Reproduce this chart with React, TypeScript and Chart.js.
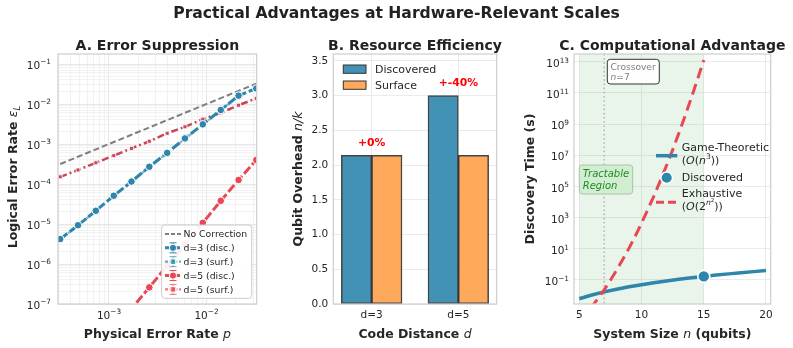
import React, { useEffect, useRef } from 'react';
import { Chart, registerables } from 'chart.js';

Chart.register(...registerables);

const FONT = "'DejaVu Sans', 'Noto Sans', sans-serif";
const TEXT = '#262626';
const BLUE = '#2E86AB';
const RED = '#E84855';
const CRIMSON = '#C8455A';

// ---------- Panel A: error suppression ----------
const physicalErrorRates = [3.16e-4, 4.81e-4, 7.33e-4, 1.12e-3, 1.7e-3, 2.59e-3, 3.95e-3, 6.01e-3, 9.16e-3, 1.4e-2, 2.13e-2, 3.24e-2];
const noCorrection = [3.16e-4, 4.81e-4, 7.33e-4, 1.12e-3, 1.7e-3, 2.59e-3, 3.95e-3, 6.01e-3, 9.16e-3, 1.4e-2, 2.13e-2, 3.24e-2];
const d3Discovered = [4.2e-6, 9.3e-6, 2.14e-5, 5.1e-5, 1.15e-4, 2.7e-4, 6.0e-4, 1.38e-3, 3.1e-3, 7.1e-3, 1.62e-2, 2.45e-2];
const d3Surface = [4.1e-6, 9.2e-6, 2.1e-5, 5.0e-5, 1.13e-4, 2.66e-4, 5.9e-4, 1.36e-3, 3.05e-3, 7.0e-3, 1.6e-2, 2.42e-2];
const d5Discovered = [5.2e-10, 1.8e-9, 6.3e-9, 2.2e-8, 7.6e-8, 2.6e-7, 9.1e-7, 3.1e-6, 1.07e-5, 3.8e-5, 1.26e-4, 4.0e-4];
const d5Surface = [1.51e-4, 2.24e-4, 3.39e-4, 5.13e-4, 7.76e-4, 1.17e-3, 1.86e-3, 2.69e-3, 4.17e-3, 6.03e-3, 9.33e-3, 1.38e-2];
const panelAXTickExps = [-3, -2];
const panelAYTickExps = [-7, -6, -5, -4, -3, -2, -1];

// ---------- Panel B: resource efficiency ----------
const codeDistances = ['d=3', 'd=5'];
const discoveredOverhead = [2.14, 3.0];
const surfaceOverhead = [2.14, 2.14];
const overheadDelta = ['+0%', '+-40%'];

// ---------- Panel C: computational advantage ----------
const systemSizes = [5, 6, 7, 8, 9, 10, 11, 12, 13, 14, 15, 16, 17, 18, 19, 20];
const gameTheoreticTime = [0.00625, 0.0108, 0.0172, 0.0256, 0.0365, 0.05, 0.0666, 0.0864, 0.11, 0.137, 0.169, 0.205, 0.246, 0.292, 0.343, 0.4];
const exhaustiveSizes = [5, 5.5, 6, 6.5, 7, 7.5, 8, 8.5, 9, 9.5, 10, 10.5, 11, 11.5, 12, 12.5, 13, 13.5, 14, 14.5, 15];
const exhaustiveTime = [2.3e-4, 6.3e-4, 1.9e-3, 6.5e-3, 2.3e-2, 9.5e-2, 0.43, 2.1, 11, 66, 440, 3.2e3, 2.5e4, 2.2e5, 2.1e6, 2.2e7, 2.6e8, 3.3e9, 4.8e10, 7.4e11, 1.26e13];
const discoveredSize = [15];
const discoveredTime = [0.169];
const crossoverSize = 7;
const tractableRange = [5, 15];
const panelCYTickExps = [-1, 1, 3, 5, 7, 9, 11, 13];

// ---------- helpers ----------
const F = (size: number, style = '') => `${style} ${size}px ${FONT}`.trim();
type Seg = { t: string; f: string; dy?: number; c?: string };

function drawRich(ctx: CanvasRenderingContext2D, segs: Seg[], x: number, y: number, align = 'center', rot = 0, color = TEXT) {
  ctx.save();
  ctx.translate(x, y);
  ctx.rotate(rot);
  ctx.textBaseline = 'alphabetic';
  ctx.textAlign = 'left';
  const ws = segs.map((s) => { ctx.font = s.f; return ctx.measureText(s.t).width; });
  const tot = ws.reduce((a, b) => a + b, 0);
  let cx = align === 'center' ? -tot / 2 : align === 'right' ? -tot : 0;
  segs.forEach((s, i) => {
    ctx.font = s.f;
    ctx.fillStyle = s.c || color;
    ctx.fillText(s.t, cx, s.dy || 0);
    cx += ws[i];
  });
  ctx.restore();
}

function drawPow10(ctx: CanvasRenderingContext2D, exp: number, x: number, yMid: number, align: string, size: number) {
  const sup = exp < 0 ? '\u2212' + Math.abs(exp) : String(exp);
  const ss = size * 0.7;
  const baseY = yMid + size * 0.36;
  drawRich(ctx, [
    { t: '10', f: F(size) },
    { t: sup, f: F(ss), dy: -size * 0.42 },
  ], x, baseY, align);
}

function rr(ctx: CanvasRenderingContext2D, x: number, y: number, w: number, h: number, r: number) {
  ctx.beginPath();
  ctx.moveTo(x + r, y);
  ctx.lineTo(x + w - r, y);
  ctx.quadraticCurveTo(x + w, y, x + w, y + r);
  ctx.lineTo(x + w, y + h - r);
  ctx.quadraticCurveTo(x + w, y + h, x + w - r, y + h);
  ctx.lineTo(x + r, y + h);
  ctx.quadraticCurveTo(x, y + h, x, y + h - r);
  ctx.lineTo(x, y + r);
  ctx.quadraticCurveTo(x, y, x + r, y);
  ctx.closePath();
}

function drawFrame(chart: any) {
  const { ctx, chartArea: a } = chart;
  ctx.save();
  ctx.strokeStyle = '#cfcfcf';
  ctx.lineWidth = 1.25;
  ctx.strokeRect(a.left, a.top, a.right - a.left, a.bottom - a.top);
  ctx.restore();
}

function logTicks(min: number, max: number) {
  const out: any[] = [];
  for (let e = Math.floor(Math.log10(min)) - 1; e <= Math.ceil(Math.log10(max)); e++) {
    for (let k = 1; k <= 9; k++) {
      const v = k * Math.pow(10, e);
      if (v >= min * 0.999 && v <= max * 1.001) out.push({ value: v, major: k === 1 });
    }
  }
  return out;
}

const isPow10 = (v: number) => Math.abs(Math.log10(v) - Math.round(Math.log10(v))) < 1e-6;

function drawMarker(ctx: CanvasRenderingContext2D, kind: string, x: number, y: number, r: number, fill: string) {
  ctx.save();
  ctx.setLineDash([]);
  ctx.fillStyle = fill;
  ctx.strokeStyle = '#ffffff';
  ctx.lineWidth = 1;
  ctx.beginPath();
  if (kind === 'circle') ctx.arc(x, y, r, 0, Math.PI * 2);
  else ctx.rect(x - r, y - r, 2 * r, 2 * r);
  ctx.fill();
  ctx.stroke();
  ctx.restore();
}

// ---------- chart builders ----------
const CANVAS_W = 793;
const CANVAS_H = 348;
const TOP = 54;
const XAXIS_H = 44;
const YAXIS_W = 30;

function makeA(canvas: HTMLCanvasElement) {
  const left = 58, right = 256.7;
  const xmin = 3.0e-4, xmax = 0.0327, ymin = 1e-7, ymax = 0.178;
  const pts = (arr: number[]) => physicalErrorRates.map((p, i) => ({ x: p, y: arr[i] }));
  const plugin = {
    id: 'panelA',
    afterDraw(chart: any) {
      const { ctx, chartArea: a, scales } = chart;
      const x = scales.x, y = scales.y;
      drawFrame(chart);
      drawRich(ctx, [{ t: 'Practical Advantages at Hardware-Relevant Scales', f: F(15.6, 'bold') }], 396.5, 17.5, 'center', 0, '#222222');
      drawRich(ctx, [{ t: 'A. Error Suppression', f: F(14, 'bold') }], (a.left + a.right) / 2, 49.5, 'center', 0, '#222222');
      panelAXTickExps.forEach((e) => drawPow10(ctx, e, x.getPixelForValue(Math.pow(10, e)), a.bottom + 11, 'center', 10.5));
      panelAYTickExps.forEach((e) => drawPow10(ctx, e, a.left - 7, y.getPixelForValue(Math.pow(10, e)) + 1, 'right', 10.5));
      drawRich(ctx, [{ t: 'Physical Error Rate ', f: F(12.5, 'bold') }, { t: 'p', f: F(12.5, 'italic') }], (a.left + a.right) / 2, 337.5);
      drawRich(ctx, [
        { t: 'Logical Error Rate ', f: F(12.5, 'bold') },
        { t: '\u03b5', f: F(12.5, 'italic') },
        { t: 'L', f: F(8.5, 'italic'), dy: 2.5 },
      ], 17, (a.top + a.bottom) / 2 - 2, 'center', -Math.PI / 2);
      // legend
      ctx.save();
      rr(ctx, 161.7, 225, 90, 73.3, 3);
      ctx.fillStyle = 'rgba(255,255,255,0.9)';
      ctx.fill();
      ctx.strokeStyle = '#cccccc';
      ctx.lineWidth = 1;
      ctx.stroke();
      const items = [
        { label: 'No Correction', color: '#7f7f7f', lw: 2, dash: [4, 2], marker: '', err: false },
        { label: 'd=3 (disc.)', color: BLUE, lw: 3, dash: [4, 1.5], marker: 'circle', err: true },
        { label: 'd=3 (surf.)', color: 'rgba(46,134,171,0.7)', lw: 2.2, dash: [3, 1.5, 1, 1.5], marker: 'rect', err: true },
        { label: 'd=5 (disc.)', color: RED, lw: 3, dash: [4, 1.5], marker: 'circle', err: true },
        { label: 'd=5 (surf.)', color: 'rgba(232,72,85,0.75)', lw: 2.2, dash: [3, 1.5, 1, 1.5], marker: 'rect', err: true },
      ];
      items.forEach((it, i) => {
        const yy = 234 + i * 13.85;
        ctx.setLineDash(it.dash);
        ctx.strokeStyle = it.color;
        ctx.lineWidth = it.lw;
        ctx.beginPath();
        ctx.moveTo(165, yy);
        ctx.lineTo(181, yy);
        ctx.stroke();
        ctx.setLineDash([]);
        if (it.err) {
          ctx.lineWidth = 1;
          ctx.beginPath();
          ctx.moveTo(173, yy - 5); ctx.lineTo(173, yy + 5);
          ctx.moveTo(169.5, yy - 5); ctx.lineTo(176.5, yy - 5);
          ctx.moveTo(169.5, yy + 5); ctx.lineTo(176.5, yy + 5);
          ctx.stroke();
        }
        if (it.marker) drawMarker(ctx, it.marker, 173, yy, it.marker === 'circle' ? 3.6 : 2.8, it.color);
        drawRich(ctx, [{ t: it.label, f: F(9.3) }], 183.5, yy + 3.4, 'left');
      });
      ctx.restore();
    },
  };
  const gridColor = (c: any) => (c.tick && isPow10(c.tick.value) ? '#e2e2e2' : '#efefef');
  return new Chart(canvas, {
    type: 'line',
    data: {
      datasets: [
        { label: 'd=3 (disc.)', data: pts(d3Discovered), borderColor: BLUE, borderWidth: 3, borderDash: [9, 3], pointRadius: 3.8, pointBackgroundColor: BLUE, pointBorderColor: '#ffffff', pointBorderWidth: 1 },
        { label: 'd=5 (disc.)', data: pts(d5Discovered), borderColor: RED, borderWidth: 3, borderDash: [9, 3], pointRadius: 3.8, pointBackgroundColor: RED, pointBorderColor: '#ffffff', pointBorderWidth: 1 },
        { label: 'd=3 (surf.)', data: pts(d3Surface), borderColor: 'rgba(46,134,171,0.6)', borderWidth: 2.2, borderDash: [7, 3, 2, 3], pointStyle: 'rect', pointRadius: 2.8, pointBackgroundColor: 'rgba(46,134,171,0.6)', pointBorderColor: '#ffffff', pointBorderWidth: 0.8 },
        { label: 'd=5 (surf.)', data: pts(d5Surface), borderColor: CRIMSON, borderWidth: 2.5, borderDash: [7, 3, 2, 3], pointStyle: 'rect', pointRadius: 2.8, pointBackgroundColor: CRIMSON, pointBorderColor: '#ffffff', pointBorderWidth: 0.8 },
        { label: 'No Correction', data: pts(noCorrection), borderColor: '#7f7f7f', borderWidth: 2, borderDash: [6, 3], pointRadius: 0 },
      ],
    },
    options: {
      responsive: false,
      animation: false,
      devicePixelRatio: 1,
      layout: { padding: { left: left - YAXIS_W, top: TOP, right: CANVAS_W - right, bottom: 0 } },
      plugins: { legend: { display: false }, tooltip: { enabled: false } },
      scales: {
        x: {
          type: 'logarithmic', min: xmin, max: xmax,
          afterBuildTicks: (s: any) => { s.ticks = logTicks(xmin, xmax); },
          afterFit: (s: any) => { s.height = XAXIS_H; },
          ticks: { display: false },
          grid: { color: gridColor, lineWidth: 0.8, drawTicks: false },
          border: { display: false },
        },
        y: {
          type: 'logarithmic', min: ymin, max: ymax,
          afterBuildTicks: (s: any) => { s.ticks = logTicks(ymin, ymax); },
          afterFit: (s: any) => { s.width = YAXIS_W; },
          ticks: { display: false },
          grid: { color: gridColor, lineWidth: 0.8, drawTicks: false },
          border: { display: false },
        },
      },
    } as any,
    plugins: [plugin],
  });
}

function makeB(canvas: HTMLCanvasElement) {
  const left = 333.3, right = 496.7;
  const halfW = 0.175;
  const plugin = {
    id: 'panelB',
    afterDraw(chart: any) {
      const { ctx, chartArea: a, scales } = chart;
      const x = scales.x, y = scales.y;
      drawFrame(chart);
      drawRich(ctx, [{ t: 'B. Resource Efficiency', f: F(14, 'bold') }], (a.left + a.right) / 2, 49.5, 'center', 0, '#222222');
      drawRich(ctx, [{ t: 'Code Distance ', f: F(12.5, 'bold') }, { t: 'd', f: F(12.5, 'italic') }], (a.left + a.right) / 2, 337.5);
      drawRich(ctx, [{ t: 'Qubit Overhead ', f: F(12.5, 'bold') }, { t: 'n/k', f: F(12.5, 'italic') }], 301.5, (a.top + a.bottom) / 2, 'center', -Math.PI / 2);
      // annotations
      codeDistances.forEach((_, i) => {
        const top = Math.max(discoveredOverhead[i], surfaceOverhead[i]);
        drawRich(ctx, [{ t: overheadDelta[i], f: F(10.8, 'bold') }], x.getPixelForValue(i), y.getPixelForValue(top + 0.1) - 2.6, 'center', 0, '#ff0000');
      });
      // legend
      ctx.save();
      const leg = [
        { label: 'Discovered', color: '#4292B6', y: 65 },
        { label: 'Surface', color: '#FFA95C', y: 81 },
      ];
      leg.forEach((l) => {
        ctx.fillStyle = l.color;
        ctx.fillRect(343.3, l.y, 22.7, 8.3);
        ctx.strokeStyle = '#333333';
        ctx.lineWidth = 1;
        ctx.strokeRect(343.3, l.y, 22.7, 8.3);
        drawRich(ctx, [{ t: l.label, f: F(11) }], 375, l.y + 8.2, 'left');
      });
      ctx.restore();
    },
  };
  const common = { borderColor: 'rgba(35,35,35,0.85)', borderWidth: 1.5, borderSkipped: false, grouped: false, categoryPercentage: 1, barPercentage: 1 };
  return new Chart(canvas, {
    type: 'bar',
    data: {
      datasets: [
        { label: 'Discovered', data: codeDistances.map((_, i) => ({ x: i - halfW, y: discoveredOverhead[i] })), backgroundColor: '#4292B6', ...common },
        { label: 'Surface', data: codeDistances.map((_, i) => ({ x: i + halfW, y: surfaceOverhead[i] })), backgroundColor: '#FFA95C', ...common },
      ],
    },
    options: {
      responsive: false,
      animation: false,
      devicePixelRatio: 1,
      layout: { padding: { left: left - YAXIS_W, top: TOP, right: CANVAS_W - right, bottom: 0 } },
      plugins: { legend: { display: false }, tooltip: { enabled: false } },
      scales: {
        x: {
          type: 'linear', min: -0.443, max: 1.443, offset: false,
          afterBuildTicks: (s: any) => { s.ticks = codeDistances.map((_, i) => ({ value: i })); },
          afterFit: (s: any) => { s.height = XAXIS_H; },
          ticks: { callback: (v: any) => codeDistances[Math.round(Number(v))], font: { family: FONT, size: 10.5 }, color: TEXT, padding: 5, maxRotation: 0 },
          grid: { color: '#e6e6e6', lineWidth: 0.8, drawTicks: false, offset: false },
          border: { display: false },
        },
        y: {
          type: 'linear', min: 0, max: 3.6,
          afterBuildTicks: (s: any) => { s.ticks = [0, 0.5, 1, 1.5, 2, 2.5, 3, 3.5].map((v) => ({ value: v })); },
          afterFit: (s: any) => { s.width = YAXIS_W; },
          ticks: { callback: (v: any) => Number(v).toFixed(1), font: { family: FONT, size: 10.5 }, color: TEXT, padding: 5 },
          grid: { color: '#e6e6e6', lineWidth: 0.8, drawTicks: false },
          border: { display: false },
        },
      },
    } as any,
    plugins: [plugin],
  });
}

function makeC(canvas: HTMLCanvasElement) {
  const left = 574, right = 770.7;
  const ymin = 2.88e-3, ymax = 3.09e13;
  const plugin = {
    id: 'panelC',
    beforeDatasetsDraw(chart: any) {
      const { ctx, chartArea: a, scales } = chart;
      const x = scales.x;
      ctx.save();
      ctx.fillStyle = 'rgba(76,175,80,0.12)';
      const x0 = x.getPixelForValue(tractableRange[0]);
      const x1 = x.getPixelForValue(tractableRange[1]);
      ctx.fillRect(x0, a.top, x1 - x0, a.bottom - a.top);
      ctx.strokeStyle = '#b8b8b8';
      ctx.lineWidth = 1.6;
      ctx.setLineDash([1.6, 2.6]);
      const xc = x.getPixelForValue(crossoverSize);
      ctx.beginPath();
      ctx.moveTo(xc, a.top);
      ctx.lineTo(xc, a.bottom);
      ctx.stroke();
      ctx.restore();
    },
    afterDraw(chart: any) {
      const { ctx, chartArea: a, scales } = chart;
      const y = scales.y;
      drawFrame(chart);
      drawRich(ctx, [{ t: 'C. Computational Advantage', f: F(14, 'bold') }], (a.left + a.right) / 2, 49.5, 'center', 0, '#222222');
      panelCYTickExps.forEach((e) => drawPow10(ctx, e, a.left - 5, y.getPixelForValue(Math.pow(10, e)) + 1.5, 'right', 10.5));
      drawRich(ctx, [{ t: 'System Size ', f: F(12.5, 'bold') }, { t: 'n', f: F(12.5, 'italic') }, { t: ' (qubits)', f: F(12.5, 'bold') }], (a.left + a.right) / 2, 337.5);
      drawRich(ctx, [{ t: 'Discovery Time (s)', f: F(12.5, 'bold') }], 533.5, (a.top + a.bottom) / 2, 'center', -Math.PI / 2);

      ctx.save();
      // crossover box
      rr(ctx, 607.3, 59.3, 52, 24.7, 3);
      ctx.fillStyle = 'rgba(255,255,255,0.92)';
      ctx.fill();
      ctx.strokeStyle = '#333333';
      ctx.lineWidth = 1;
      ctx.stroke();
      drawRich(ctx, [{ t: 'Crossover', f: F(9.1) }], 610.5, 70, 'left', 0, '#808080');
      drawRich(ctx, [{ t: 'n', f: F(9.1, 'italic') }, { t: '=' + crossoverSize, f: F(9.1) }], 610.5, 79.8, 'left', 0, '#808080');
      // tractable box
      rr(ctx, 579.3, 165, 53.4, 29, 3);
      ctx.fillStyle = '#d2eed2';
      ctx.fill();
      ctx.strokeStyle = '#a9c2a9';
      ctx.lineWidth = 1;
      ctx.stroke();
      drawRich(ctx, [{ t: 'Tractable', f: F(10, 'italic') }], 582.7, 176.8, 'left', 0, '#1f8a1f');
      drawRich(ctx, [{ t: 'Region', f: F(10, 'italic') }], 582.7, 189, 'left', 0, '#1f8a1f');

      // legend
      ctx.strokeStyle = BLUE;
      ctx.lineWidth = 3.5;
      ctx.beginPath();
      ctx.moveTo(656, 155.7);
      ctx.lineTo(677.3, 155.7);
      ctx.stroke();
      const LF = 11;
      drawRich(ctx, [{ t: 'Game-Theoretic', f: F(LF) }], 681.7, 151.3, 'left');
      drawRich(ctx, [
        { t: '(', f: F(LF) }, { t: 'O', f: F(LF, 'italic') }, { t: '(', f: F(LF) }, { t: 'n', f: F(LF, 'italic') },
        { t: '3', f: F(LF * 0.7), dy: -4.6 }, { t: '))', f: F(LF) },
      ], 681.7, 163.5, 'left');
      ctx.beginPath();
      ctx.arc(666.7, 177.7, 5.8, 0, Math.PI * 2);
      ctx.fillStyle = BLUE;
      ctx.fill();
      ctx.strokeStyle = '#ffffff';
      ctx.lineWidth = 1.5;
      ctx.stroke();
      drawRich(ctx, [{ t: 'Discovered', f: F(LF) }], 681.7, 181.3, 'left');
      ctx.strokeStyle = RED;
      ctx.lineWidth = 3;
      ctx.setLineDash([8, 4]);
      ctx.beginPath();
      ctx.moveTo(656, 202.3);
      ctx.lineTo(677.3, 202.3);
      ctx.stroke();
      ctx.setLineDash([]);
      drawRich(ctx, [{ t: 'Exhaustive', f: F(LF) }], 681.7, 197.3, 'left');
      drawRich(ctx, [
        { t: '(', f: F(LF) }, { t: 'O', f: F(LF, 'italic') }, { t: '(2', f: F(LF) },
        { t: 'n', f: F(LF * 0.7, 'italic'), dy: -4.6 }, { t: '2', f: F(LF * 0.5), dy: -7.6 },
        { t: '))', f: F(LF) },
      ], 681.7, 209.5, 'left');
      ctx.restore();
    },
  };
  return new Chart(canvas, {
    type: 'line',
    data: {
      datasets: [
        { label: 'Discovered', data: discoveredSize.map((n, i) => ({ x: n, y: discoveredTime[i] })), showLine: false, pointRadius: 6, pointBackgroundColor: BLUE, pointBorderColor: '#ffffff', pointBorderWidth: 1.6 },
        { label: 'Exhaustive', data: exhaustiveSizes.map((n, i) => ({ x: n, y: exhaustiveTime[i] })), borderColor: RED, borderWidth: 3, borderDash: [11, 6], pointRadius: 0 },
        { label: 'Game-Theoretic', data: systemSizes.map((n, i) => ({ x: n, y: gameTheoreticTime[i] })), borderColor: BLUE, borderWidth: 3.5, pointRadius: 0 },
      ],
    },
    options: {
      responsive: false,
      animation: false,
      devicePixelRatio: 1,
      layout: { padding: { left: left - YAXIS_W, top: TOP, right: CANVAS_W - right, bottom: 0 } },
      plugins: { legend: { display: false }, tooltip: { enabled: false } },
      scales: {
        x: {
          type: 'linear', min: 4.574, max: 20.378,
          afterBuildTicks: (s: any) => { s.ticks = [5, 10, 15, 20].map((v) => ({ value: v })); },
          afterFit: (s: any) => { s.height = XAXIS_H; },
          ticks: { font: { family: FONT, size: 10.5 }, color: TEXT, padding: 5, maxRotation: 0 },
          grid: { color: '#e6e6e6', lineWidth: 0.8, drawTicks: false },
          border: { display: false },
        },
        y: {
          type: 'logarithmic', min: ymin, max: ymax,
          afterBuildTicks: (s: any) => { s.ticks = panelCYTickExps.map((e) => ({ value: Math.pow(10, e) })); },
          afterFit: (s: any) => { s.width = YAXIS_W; },
          ticks: { display: false },
          grid: { color: '#e6e6e6', lineWidth: 0.8, drawTicks: false },
          border: { display: false },
        },
      },
    } as any,
    plugins: [plugin],
  });
}

export default function App() {
  const refA = useRef<HTMLCanvasElement>(null);
  const refB = useRef<HTMLCanvasElement>(null);
  const refC = useRef<HTMLCanvasElement>(null);

  useEffect(() => {
    const charts = [makeA(refA.current!), makeB(refB.current!), makeC(refC.current!)];
    return () => charts.forEach((c) => c.destroy());
  }, []);

  const cs: React.CSSProperties = { position: 'absolute', left: 0, top: 0 };
  return (
    <div style={{ position: 'absolute', left: 0, top: 0, width: CANVAS_W, height: CANVAS_H, background: '#ffffff' }}>
      <canvas ref={refA} width={CANVAS_W} height={CANVAS_H} style={cs} />
      <canvas ref={refB} width={CANVAS_W} height={CANVAS_H} style={cs} />
      <canvas ref={refC} width={CANVAS_W} height={CANVAS_H} style={cs} />
    </div>
  );
}
